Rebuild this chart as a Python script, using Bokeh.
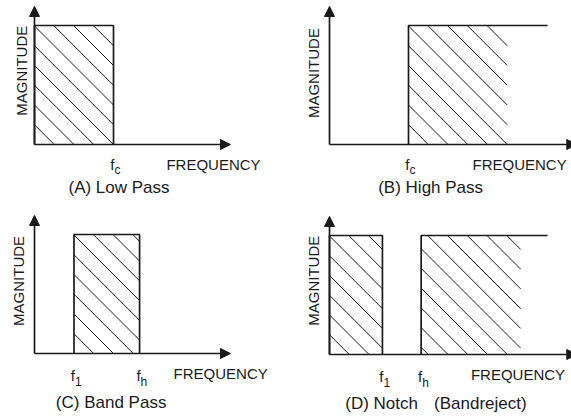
import math
import numpy as np
from bokeh.plotting import figure
from bokeh.layouts import column, row
from bokeh.models import Arrow, NormalHead
from bokeh.core.properties import value
from bokeh.embed import file_html
from bokeh.resources import INLINE

# ---------------- data (normalised frequency: f_c = 1, magnitude: pass = 1) ----------------
caption_parts = [["(A) Low Pass"], ["(B) High Pass"], ["(C) Band Pass"], ["(D) Notch", "(Bandreject)"]]
caption_x = [[1.07], [1.28], [0.97], [0.66, 1.91]]
band_left = [[0.0], [1.0], [0.5], [0.0, 1.16]]
band_right = [[1.0], [2.76], [1.33], [0.67, 2.76]]      # end of the drawn top edge
band_closed = [[True], [False], [True], [True, False]]  # closed bands have a right edge
hatch_right = [[1.0], [2.25], [1.33], [0.67, 2.42]]
pass_level = 1.0
tick_pos = [[1.0], [1.0], [0.5, 1.33], [0.67, 1.16]]
tick_sub = [["c"], ["c"], ["1", "h"], ["1", "h"]]
freq_label_x = [1.67, 1.81, 1.76, 1.79]
mag_label_y = [0.62, 0.6, 0.61, 0.62]
axis_x_end = [2.48, 3.13, 2.48, 3.13]
axis_y_end = 1.16

# ---------------- layout (pixels) ----------------
PX_X = 79.0
PX_Y = 119.0
HATCH_STEP = 79.0 / 4   # px between hatch lines, measured along x
panel_w = [285, 286, 285, 286]
panel_h = [207, 207, 210, 210]
origin = [(34, 144), (44, 144), (34, 146), (44, 147)]   # local px (from left, from top)
tick_dy = [(20, 25), (20, 25), (22, 28), (22, 28)]
caption_dy = [43, 43, 49, 49]
mag_dx = [-13, -16, -16, -16]

INK = "#1a1a1a"
FONT = value("Liberation Sans")


def hatch_segments(left, right, top):
    """45-degree ('\\') hatch lines clipped to [left,right]x[0,top] (data units)."""
    L, R, T = left * PX_X, right * PX_X, top * PX_Y
    xs, ys = [], []
    k0 = math.floor(L / HATCH_STEP) + 1
    k1 = math.ceil((R + T) / HATCH_STEP)
    for k in range(k0, k1):
        c = k * HATCH_STEP
        y_s = min(T, c - L)
        x_s = c - y_s
        x_e = min(R, c)
        y_e = c - x_e
        if x_e - x_s > 0.5:
            xs.append([x_s / PX_X, x_e / PX_X])
            ys.append([y_s / PX_Y, y_e / PX_Y])
    return xs, ys


def make_panel(i):
    w, h = panel_w[i], panel_h[i]
    ox, oy = origin[i]
    p = figure(width=w, height=h,
               x_range=(-ox / PX_X, (w - ox) / PX_X),
               y_range=(-(h - oy) / PX_Y, oy / PX_Y),
               output_backend="svg", toolbar_location=None,
               min_border=0, outline_line_color=None,
               background_fill_color="white", border_fill_color="white")
    p.axis.visible = False
    p.grid.visible = False

    # hatching of pass bands
    hx, hy = [], []
    for l, r in zip(band_left[i], hatch_right[i]):
        sx, sy = hatch_segments(l, r, pass_level)
        hx += sx
        hy += sy
    p.multi_line(xs=hx, ys=hy, line_color=INK, line_width=1.0)

    # band outlines
    xs, ys = [], []
    for l, r, c in zip(band_left[i], band_right[i], band_closed[i]):
        if c:
            xs.append([l, l, r, r]); ys.append([0, pass_level, pass_level, 0])
        else:
            xs.append([l, l, r]); ys.append([0, pass_level, pass_level])
    p.multi_line(xs=xs, ys=ys, line_color=INK, line_width=1.7)

    # axes with arrows
    head = dict(size=10, fill_color=INK, line_color=INK, line_width=1)
    p.add_layout(Arrow(end=NormalHead(**head), x_start=0, y_start=0,
                       x_end=0, y_end=axis_y_end, line_color=INK, line_width=1.7))
    p.add_layout(Arrow(end=NormalHead(**head), x_start=0, y_start=0,
                       x_end=axis_x_end[i], y_end=0, line_color=INK, line_width=1.7))

    # tick labels f with subscript
    m = len(tick_pos[i])
    d1, d2 = tick_dy[i]
    p.text(x=tick_pos[i], y=[0] * m, text=["f"] * m, x_offset=1, y_offset=d1,
           text_align="right", text_baseline="alphabetic",
           text_font=FONT, text_font_size="15px", text_color=INK)
    p.text(x=tick_pos[i], y=[0] * m, text=tick_sub[i], x_offset=1, y_offset=d2,
           text_align="left", text_baseline="alphabetic",
           text_font=FONT, text_font_size="12px", text_color=INK)

    # axis titles
    p.text(x=[freq_label_x[i]], y=[0], text=["FREQUENCY"], y_offset=20,
           text_align="left", text_baseline="alphabetic",
           text_font=FONT, text_font_size="15px", text_color=INK)
    p.text(x=[0], y=[mag_label_y[i]], text=["MAGNITUDE"], x_offset=mag_dx[i],
           angle=math.pi / 2, text_align="center", text_baseline="middle",
           text_font=FONT, text_font_size="15px", text_color=INK)

    # caption
    n = len(caption_parts[i])
    p.text(x=caption_x[i], y=[0] * n, text=caption_parts[i], y_offset=caption_dy[i],
           text_align="center", text_baseline="middle",
           text_font=FONT, text_font_size="17px", text_color=INK)
    return p


panels = [make_panel(i) for i in range(4)]
layout = column(row(panels[0], panels[1]), row(panels[2], panels[3]))

open("out.html", "w").write(file_html(layout, INLINE))
